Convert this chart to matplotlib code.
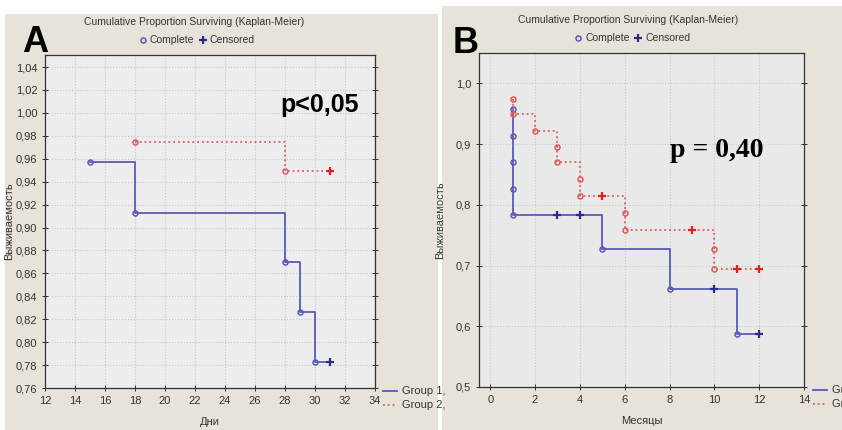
import matplotlib.pyplot as plt
import matplotlib.patches as mpatches
from matplotlib.lines import Line2D
from matplotlib.ticker import FuncFormatter, MultipleLocator

plt.rcParams['font.family'] = ['Liberation Sans', 'DejaVu Sans']

# ---- panel A (days) ----
a_g1_t = [15, 18, 28, 29, 30, 31]
a_g1_s = [0.957, 0.913, 0.870, 0.826, 0.783, 0.783]
a_g1_ev_t = [15, 18, 28, 29, 30]
a_g1_ev_s = [0.957, 0.913, 0.870, 0.826, 0.783]
a_g1_cen_t = [31]
a_g1_cen_s = [0.783]

a_g2_t = [18, 28, 31]
a_g2_s = [0.975, 0.949, 0.949]
a_g2_ev_t = [18, 28]
a_g2_ev_s = [0.975, 0.949]
a_g2_cen_t = [31]
a_g2_cen_s = [0.949]

# ---- panel B (months) ----
b_g1_t = [1, 1, 5, 8, 11, 12]
b_g1_s = [0.957, 0.783, 0.728, 0.661, 0.587, 0.587]
b_g1_ev_t = [1, 1, 1, 1, 1, 5, 8, 11]
b_g1_ev_s = [0.957, 0.913, 0.870, 0.826, 0.783, 0.728, 0.661, 0.587]
b_g1_cen_t = [3, 4, 10, 12]
b_g1_cen_s = [0.783, 0.783, 0.661, 0.587]

b_g2_t = [1, 1, 2, 3, 4, 6, 10, 12]
b_g2_s = [0.975, 0.949, 0.921, 0.870, 0.815, 0.758, 0.694, 0.694]
b_g2_ev_t = [1, 1, 2, 3, 3, 4, 4, 6, 6, 10, 10]
b_g2_ev_s = [0.975, 0.949, 0.921, 0.896, 0.870, 0.842, 0.815, 0.787, 0.758, 0.727, 0.694]
b_g2_cen_t = [5, 9, 11, 12]
b_g2_cen_s = [0.815, 0.758, 0.694, 0.694]

blue = '#5a5ab8'
blue_dark = '#2a2a90'
red = '#e05a5a'
red_dark = '#e02020'
beige = '#e7e3d9'

W, H = 842, 430
fig = plt.figure(figsize=(W / 100, H / 100), dpi=100, facecolor='white')


def fx(px):
    return px / W


def fy(py):
    return 1 - py / H


# beige panel backgrounds
fig.patches.append(mpatches.Rectangle((fx(5), 0), fx(433), 416 / H, transform=fig.transFigure,
                                      facecolor=beige, edgecolor='none', zorder=-10))
fig.patches.append(mpatches.Rectangle((fx(442), 0), fx(400), 424 / H, transform=fig.transFigure,
                                      facecolor=beige, edgecolor='none', zorder=-10))

comma2 = FuncFormatter(lambda v, p: ('%.2f' % v).replace('.', ','))
comma1 = FuncFormatter(lambda v, p: ('%.1f' % v).replace('.', ','))


def draw_km(ax, t, s, ev_t, ev_s, cen_t, cen_s, color, dark, ls):
    ax.step(t, s, where='post', color=color, lw=1.3, ls=ls)
    ax.plot(ev_t, ev_s, 'o', ms=3.6, mfc='none', mec=color, mew=1.1)
    ax.plot(cen_t, cen_s, '+', ms=6, color=dark, mew=1.6)


def style_axes(ax, facecolor):
    ax.set_facecolor(facecolor)
    ax.grid(True, color='#c8c8c8', ls=':', lw=0.8)
    ax.set_axisbelow(True)
    for sp in ax.spines.values():
        sp.set_color('#333333')
        sp.set_linewidth(0.9)
    ax.tick_params(direction='inout', length=4, width=0.7, labelsize=8,
                   colors='#333333', right=True)


# ---- axes A ----
axA = fig.add_axes([fx(45), fy(388), fx(330), 333 / H])
style_axes(axA, '#ededf0')
draw_km(axA, a_g1_t, a_g1_s, a_g1_ev_t, a_g1_ev_s, a_g1_cen_t, a_g1_cen_s, blue, blue_dark, '-')
draw_km(axA, a_g2_t, a_g2_s, a_g2_ev_t, a_g2_ev_s, a_g2_cen_t, a_g2_cen_s, red, red_dark, ':')
axA.set_xlim(12, 34)
axA.set_ylim(0.76, 1.0505)
axA.xaxis.set_major_locator(MultipleLocator(2))
axA.yaxis.set_major_locator(MultipleLocator(0.02))
axA.yaxis.set_major_formatter(comma2)
axA.set_xlabel('Дни', fontsize=8, color='#333333', labelpad=8)
axA.set_ylabel('Выживаемость', fontsize=8, color='#333333', labelpad=1)
axA.text(0.95, 0.83, 'p<0,05', transform=axA.transAxes, ha='right', va='baseline',
         fontsize=18, fontweight='bold', color='black')

# ---- axes B ----
axB = fig.add_axes([fx(479), fy(387), fx(325), 334 / H])
style_axes(axB, '#e9e9e9')
draw_km(axB, b_g1_t, b_g1_s, b_g1_ev_t, b_g1_ev_s, b_g1_cen_t, b_g1_cen_s, blue, blue_dark, '-')
draw_km(axB, b_g2_t, b_g2_s, b_g2_ev_t, b_g2_ev_s, b_g2_cen_t, b_g2_cen_s, red, red_dark, ':')
axB.set_xlim(-0.5, 14)
axB.set_ylim(0.5, 1.05)
axB.xaxis.set_major_locator(MultipleLocator(2))
axB.yaxis.set_major_locator(MultipleLocator(0.1))
axB.yaxis.set_major_formatter(comma1)
axB.set_xlabel('Месяцы', fontsize=8, color='#333333', labelpad=8)
axB.set_ylabel('Выживаемость', fontsize=8, color='#333333', labelpad=8)
axB.text(0.875, 0.69, 'p = 0,40', transform=axB.transAxes, ha='right', va='baseline',
         fontsize=20, fontweight='bold', family='Liberation Serif', color='black')

# ---- titles, legends, panel letters ----
title = 'Cumulative Proportion Surviving (Kaplan-Meier)'
for cx, ty, lx, cen_x, letter, lpos in [(194, 22, 143, 203, 'A', (22, 52)),
                                       (628, 20, 578, 638, 'B', (453, 53))]:
    fig.text(fx(cx), fy(ty), title, ha='center', va='center', fontsize=7.5, color='#333333')
    ly = ty + 18
    fig.add_artist(Line2D([fx(lx)], [fy(ly)], marker='o', ms=3.6, mfc='none', mec=blue,
                          mew=1.1, transform=fig.transFigure))
    fig.text(fx(lx + 7), fy(ly), 'Complete', ha='left', va='center', fontsize=7.5, color='#333333')
    fig.add_artist(Line2D([fx(cen_x)], [fy(ly)], marker='+', ms=6, color=blue_dark,
                          mew=1.6, transform=fig.transFigure))
    fig.text(fx(cen_x + 7), fy(ly), 'Censored', ha='left', va='center', fontsize=7.5, color='#333333')
    fig.text(fx(lpos[0]), fy(lpos[1]), letter, ha='left', va='baseline', fontsize=26,
             fontweight='bold', color='black')

# group legends at lower right (B's is cut by the picture edge, as in the original)
for x0, y0 in [(383, 391), (813, 390)]:
    for i, (lab, col, ls) in enumerate([('Group 1,', blue, '-'), ('Group 2,', red, ':')]):
        yy = y0 + i * 14
        fig.add_artist(Line2D([fx(x0), fx(x0 + 14)], [fy(yy), fy(yy)], color=col, ls=ls,
                              lw=1.3, transform=fig.transFigure))
        fig.text(fx(x0 + 19), fy(yy), lab, ha='left', va='center', fontsize=8, color='#333333')

fig.savefig('out.png', dpi=100, facecolor='white')
